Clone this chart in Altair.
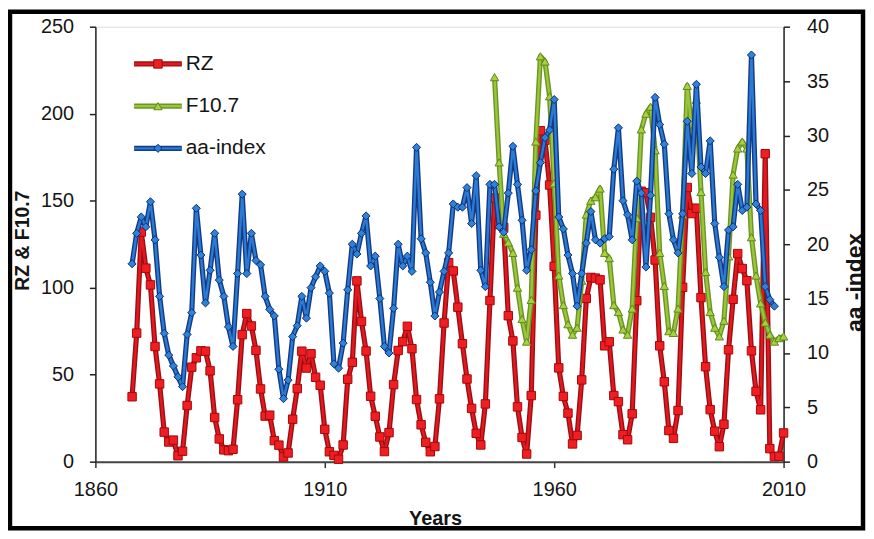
import altair as alt
import pandas as pd

# ---------------- data ----------------
rz_years = list(range(1868, 2011))
rz_values = [
    37.3, 73.9, 132.0, 111.2, 101.6, 66.2, 44.7, 17.0, 11.3, 12.4,
    3.4, 6.0, 32.3, 54.3, 59.7, 63.7, 63.5, 52.2, 25.4, 13.1,
    6.8, 6.3, 7.1, 35.6, 73.0, 85.1, 78.0, 64.0, 41.8, 26.2,
    26.7, 12.1, 9.5, 2.7, 5.0, 24.4, 42.0, 63.5, 53.8, 62.0,
    48.5, 43.9, 18.6, 5.7, 3.6, 1.4, 9.6, 47.4, 57.1, 103.9,
    80.6, 63.6, 37.6, 26.1, 14.2, 5.8, 16.7, 44.3, 63.9, 69.0,
    77.8, 64.9, 35.7, 21.2, 11.1, 5.7, 8.7, 36.1, 79.7, 114.4,
    109.6, 88.8, 67.8, 47.5, 30.6, 16.3, 9.6, 33.2, 92.6, 151.6,
    136.3, 134.7, 83.9, 69.4, 31.5, 13.9, 4.4, 38.0, 141.7, 190.2,
    184.8, 159.0, 112.3, 53.9, 37.5, 27.9, 10.2, 15.1, 47.0, 93.8,
    105.9, 105.5, 104.5, 66.6, 68.9, 38.0, 34.5, 15.5, 12.6, 27.5,
    92.5, 155.4, 154.6, 140.4, 115.9, 66.6, 45.9, 17.9, 13.4, 29.4,
    100.2, 157.6, 142.6, 145.7, 94.3, 54.6, 29.9, 17.5, 8.6, 21.5,
    64.3, 93.3, 119.6, 111.0, 104.0, 63.7, 40.4, 29.8, 177.0, 7.5,
    2.9, 3.1, 16.5,
]

f107_years = list(range(1947, 2011))
f107_values = [
    221, 172, 131, 126, 120, 100, 82, 69, 93, 184,
    233, 230, 210, 160, 107, 90, 79, 73, 77, 104,
    142, 150, 152, 157, 120, 117, 90, 86, 76, 73,
    88, 140, 191, 200, 204, 179, 120, 101, 75, 74,
    88, 142, 216, 190, 208, 155, 109, 86, 77, 72,
    81, 118, 165, 180, 184, 180, 129, 107, 91, 80,
    73, 69, 71, 72,
]

aa_years = list(range(1868, 2009))
aa_values = [
    18.2, 21.0, 22.5, 21.6, 23.9, 20.4, 15.2, 11.8, 9.8, 8.8,
    7.8, 6.9, 11.7, 13.7, 23.3, 19.0, 14.6, 17.6, 21.0, 16.7,
    15.2, 12.4, 10.6, 17.3, 24.6, 17.3, 21.0, 18.5, 18.1, 15.2,
    14.0, 13.4, 8.5, 5.8, 7.5, 11.5, 12.5, 15.2, 13.2, 16.0,
    17.0, 18.0, 17.5, 15.5, 9.0, 8.6, 10.9, 15.8, 20.0, 19.1,
    21.0, 22.6, 18.0, 18.9, 15.0, 10.6, 10.0, 14.1, 20.0, 18.0,
    18.9, 17.5, 28.9, 20.5, 19.2, 16.5, 13.4, 15.6, 17.5, 19.2,
    23.7, 23.4, 23.4, 25.2, 21.9, 26.3, 17.6, 16.1, 25.5, 25.5,
    21.6, 21.1, 24.7, 29.0, 25.5, 22.2, 17.6, 19.5, 24.9, 27.5,
    29.8, 30.5, 33.3, 22.5, 21.4, 19.0, 17.3, 14.3, 17.3, 20.1,
    23.0, 20.4, 20.1, 20.5, 20.7, 26.9, 30.7, 24.0, 22.7, 20.4,
    25.8, 24.7, 17.9, 24.5, 33.5, 31.0, 29.2, 22.8, 20.4, 19.2,
    22.8, 31.3, 26.5, 34.7, 27.1, 26.5, 29.5, 21.9, 18.8, 16.1,
    21.3, 21.6, 25.5, 23.1, 23.4, 37.4, 23.7, 23.1, 16.1, 14.9,
    14.3,
]

x_ticks = [1860, 1910, 1960, 2010]
left_ticks = [0, 50, 100, 150, 200, 250]
right_ticks = [0, 5, 10, 15, 20, 25, 30, 35, 40]
legend_names = ["RZ", "F10.7", "aa-index"]

# ---------------- styling ----------------
FONT = "Liberation Sans"
TXT = "#151515"
W, H = 693, 438

rz_df = pd.DataFrame({"Year": rz_years, "Value": rz_values})
f_df = pd.DataFrame({"Year": f107_years, "Value": f107_values})
aa_df = pd.DataFrame({"Year": aa_years, "aa": aa_values})

xenc = alt.X(
    "Year:Q",
    scale=alt.Scale(domain=[1860, 2010], nice=False, zero=False),
    axis=alt.Axis(
        values=x_ticks, format="d", grid=False, title="Years",
        tickSize=6, tickColor="#333", tickWidth=1.5,
        domainColor="#444", domainWidth=2,
        labelFont=FONT, labelFontSize=20, labelColor=TXT, labelPadding=12,
        labelFlush=False,
        titleFont=FONT, titleFontSize=20, titleFontWeight="bold", titleColor=TXT,
        titleX=342, titleY=57, titleAlign="center", titleBaseline="middle",
    ),
)

yL = alt.Y(
    "Value:Q",
    scale=alt.Scale(domain=[0, 250], nice=False),
    axis=alt.Axis(
        values=left_ticks, orient="left", grid=False,
        tickSize=6, tickColor="#222", tickWidth=1.5,
        domainColor="#222", domainWidth=1.5,
        labelFont=FONT, labelFontSize=20, labelColor=TXT, labelPadding=16,
        title="RZ & F10.7", titleFont=FONT, titleFontSize=19.5,
        titleFontWeight="bold", titleColor=TXT, titleAngle=270,
        titleX=-73, titleY=215, titleAlign="center", titleBaseline="middle",
    ),
)

yR = alt.Y(
    "aa:Q",
    scale=alt.Scale(domain=[0, 40], nice=False),
    axis=alt.Axis(
        values=right_ticks, orient="right", grid=False,
        tickSize=6, tickColor="#222", tickWidth=1.5,
        domainColor="#222", domainWidth=1.5,
        labelFont=FONT, labelFontSize=20, labelColor=TXT, labelPadding=17,
        title="aa -index", titleFont=FONT, titleFontSize=23,
        titleFontWeight="bold", titleColor=TXT, titleAngle=270,
        titleX=71, titleY=257, titleAlign="center", titleBaseline="middle",
    ),
)

styles = {
    "RZ": dict(dark="#9A0F14", bright="#E3191F", shape="square",
               fill="#F01E22", stroke="#A00A0A", size=72),
    "F10.7": dict(dark="#6A9623", bright="#9CC53C", shape="triangle-up",
                  fill="#A8D040", stroke="#5E8A1C", size=70),
    "aa-index": dict(dark="#123A86", bright="#2B7BD3", shape="diamond",
                     fill="#2F82DA", stroke="#0F2F70", size=66),
}


def series(df, yenc, st):
    base = alt.Chart(df).encode(x=xenc, y=yenc)
    under = base.mark_line(color=st["dark"], strokeWidth=5.2, strokeJoin="round")
    over = base.mark_line(color=st["bright"], strokeWidth=2.4, strokeJoin="round")
    pts = base.mark_point(shape=st["shape"], filled=True, size=st["size"],
                          color=st["fill"], stroke=st["stroke"],
                          strokeWidth=1, opacity=1)
    return [under, over, pts]


left = alt.layer(*series(rz_df, yL, styles["RZ"]), *series(f_df, yL, styles["F10.7"]))
right = alt.layer(*series(aa_df, yR, styles["aa-index"]))

# legend drawn inside the plot, top-left
legend_layers = []
for i, name in enumerate(legend_names):
    st = styles[name]
    ly = 37.5 + 42.5 * i
    ldf = pd.DataFrame({"label": [name]})
    legend_layers.append(
        alt.Chart(ldf).mark_rule(color=st["dark"], strokeWidth=5.2).encode(
            x=alt.value(39), x2=alt.value(87), y=alt.value(ly)))
    legend_layers.append(
        alt.Chart(ldf).mark_rule(color=st["bright"], strokeWidth=2.4).encode(
            x=alt.value(39), x2=alt.value(87), y=alt.value(ly)))
    legend_layers.append(
        alt.Chart(ldf).mark_point(shape=st["shape"], filled=True, size=st["size"],
                                  color=st["fill"], stroke=st["stroke"],
                                  strokeWidth=1, opacity=1).encode(
            x=alt.value(63), y=alt.value(ly)))
    legend_layers.append(
        alt.Chart(ldf).mark_text(align="left", baseline="middle", font=FONT,
                                 fontSize=21, color=TXT).encode(
            x=alt.value(91), y=alt.value(ly), text="label:N"))

# black picture frame
frame = alt.Chart(pd.DataFrame({"k": [0]})).mark_rect(
    fillOpacity=0, stroke="black", strokeWidth=4.5).encode(
    x=alt.value(-86), x2=alt.value(773), y=alt.value(-15), y2=alt.value(505))

chart = alt.layer(left, right, *legend_layers, frame).resolve_scale(
    y="independent"
).properties(
    width=W, height=H,
    autosize=alt.AutoSizeParams(type="none"),
    padding={"left": 88, "top": 17, "right": 83, "bottom": 70},
).configure_view(stroke=None).configure(background="white")

chart.save("out.html", embed_options={"renderer": "svg", "actions": False})
